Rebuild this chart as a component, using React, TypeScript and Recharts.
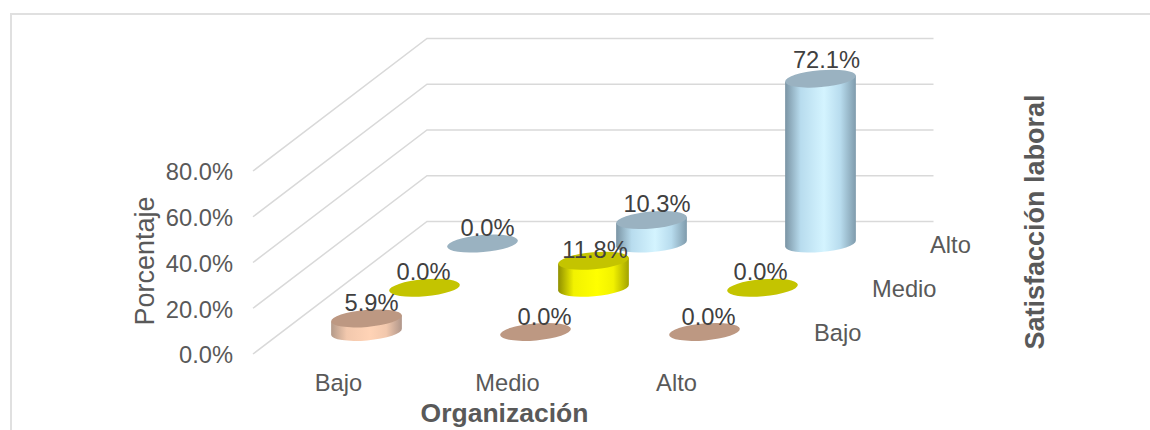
import React from 'react';
import { BarChart, Bar, XAxis, YAxis, CartesianGrid, LabelList } from 'recharts';

// Organización on the x axis, Satisfacción laboral as the depth rows
const categories = ['Bajo', 'Medio', 'Alto'];
const depthLabels = ['Bajo', 'Medio', 'Alto'];
const satisfaccionBajo = [5.9, 0, 0];
const satisfaccionMedio = [0, 11.8, 0];
const satisfaccionAlto = [0, 10.3, 72.1];
const percentTicks = [0, 20, 40, 60, 80];

const data = categories.map((name, i) => ({
  name,
  bajo: satisfaccionBajo[i],
  medio: satisfaccionMedio[i],
  alto: satisfaccionAlto[i],
}));

const FONT = '"Liberation Sans", Arial, sans-serif';
const TEXT = '#595959';
const GRID = '#d9d9d9';
const FONT_SIZE = 23.7;

// front plane of the fake 3D box
const PLOT = { left: 253, right: 760, top: 171, bottom: 354 };
const BACK_DX = 174;
const BACK_DY = 132.5;
const ROW_DX = BACK_DX / 3;
const ROW_DY = BACK_DY / 3;
const TILT = 5;
const RY = 8.5;

const rowOffset = (row: number) => ({
  dx: ROW_DX * (row + 0.5),
  dy: ROW_DY * (row + 0.5),
});

// hand placed data labels, per row then per category
const labelNudge = [
  [{ x: 5, y: -15 }, { x: 9, y: -15 }, { x: 4, y: -15 }],
  [{ x: -1, y: -16 }, { x: 1.5, y: -11 }, { x: -2, y: -16 }],
  [{ x: 5, y: -16 }, { x: 5.5, y: -16 }, { x: 6, y: -19 }],
];

function cylinderShape(row: number, fill: string, top: string) {
  return function Cylinder(props: any) {
    const { x, y, width, height } = props;
    const { dx, dy } = rowOffset(row);
    const cx = x + width / 2 + dx;
    const rx = width / 2;
    const tipX = rx * Math.cos((TILT * Math.PI) / 180);
    const tipY = rx * Math.sin((TILT * Math.PI) / 180);
    const yTop = y - dy;
    const yBase = y + height - dy;
    const side =
      `M${cx - tipX},${yTop + tipY} L${cx - tipX},${yBase + tipY} ` +
      `A${rx},${RY} ${-TILT} 0 0 ${cx + tipX},${yBase - tipY} L${cx + tipX},${yTop - tipY} Z`;
    return (
      <g>
        {height > 0 && <path d={side} fill={fill} />}
        <ellipse cx={cx} cy={yTop} rx={rx} ry={RY} fill={top} transform={`rotate(${-TILT} ${cx} ${yTop})`} />
      </g>
    );
  };
}

function barLabel(row: number) {
  return function BarLabel(props: any) {
    const { x, y, width, value, index } = props;
    const { dx, dy } = rowOffset(row);
    const nudge = labelNudge[row][index];
    return (
      <text
        x={x + width / 2 + dx + nudge.x}
        y={y - dy + nudge.y}
        textAnchor="middle"
        dominantBaseline="central"
        fontFamily={FONT}
        fontSize={FONT_SIZE}
        fill="#404040"
      >
        {`${Number(value).toFixed(1)}%`}
      </text>
    );
  };
}

// slanted side wall plus the flat run along the back wall
function gridLine(props: any) {
  const { x1, y1, x2, key } = props;
  const d = `M${x1},${y1} L${x1 + BACK_DX},${y1 - BACK_DY} L${x2 + BACK_DX - 0.5},${y1 - BACK_DY}`;
  return <path key={key} d={d} fill="none" stroke={GRID} strokeWidth={1.5} />;
}

function SideGradient({ id, edge, soft, mid, right }: { id: string; edge: string; soft: string; mid: string; right: string }) {
  return (
    <linearGradient id={id} x1="0" y1="0" x2="1" y2="0">
      <stop offset="0%" stopColor={edge} />
      <stop offset="22%" stopColor={soft} />
      <stop offset="55%" stopColor={mid} />
      <stop offset="78%" stopColor={soft} />
      <stop offset="100%" stopColor={right} />
    </linearGradient>
  );
}

export default function App() {
  return (
    <div style={{ position: 'absolute', left: 0, top: 0, width: 1150, height: 430, overflow: 'hidden', background: '#fff' }}>
      <div
        style={{
          position: 'absolute',
          left: 10,
          top: 13,
          width: 1140,
          height: 417,
          borderTop: '2px solid #e0e0e0',
          borderLeft: '2px solid #e0e0e0',
        }}
      />
      <div style={{ position: 'absolute', left: 0, top: 0 }}>
        <BarChart
          width={1150}
          height={430}
          data={data}
          margin={{ top: PLOT.top, right: 1150 - PLOT.right, bottom: 0, left: 0 }}
          barSize={71}
          barGap={-71}
          style={{ fontFamily: FONT }}
        >
          <defs>
            <SideGradient id="sideBajo" edge="#b49a89" soft="#f2c8ad" mid="#ffd3b6" right="#b0968a" />
            <SideGradient id="sideMedio" edge="#8f8f00" soft="#f2f200" mid="#ffff00" right="#a3a300" />
            <SideGradient id="sideAlto" edge="#7a94a4" soft="#b8dcee" mid="#d4f4ff" right="#7f9bac" />
          </defs>
          <CartesianGrid vertical={false} horizontal={gridLine} />
          <XAxis
            dataKey="name"
            axisLine={false}
            tickLine={false}
            height={430 - PLOT.bottom}
            tick={{ fontSize: FONT_SIZE, fill: TEXT, fontFamily: FONT, dx: 1 }}
            tickMargin={14}
            label={{ value: 'Organización', position: 'insideBottom', offset: 8, dx: -2, fontSize: 26.5, fontWeight: 700, fill: TEXT, fontFamily: FONT }}
          />
          <YAxis
            domain={[0, 80]}
            ticks={percentTicks}
            width={PLOT.left}
            axisLine={false}
            tickLine={false}
            tickMargin={14}
            tickFormatter={(v: number) => `${v.toFixed(1)}%`}
            tick={{ fontSize: FONT_SIZE, fill: TEXT, fontFamily: FONT, dy: 1 }}
            label={{ value: 'Porcentaje', angle: -90, position: 'insideLeft', dx: 139, dy: 63, fontSize: 27, fill: TEXT, fontFamily: FONT }}
          />
          {/* back row first so the nearer cylinders overlap it */}
          <Bar dataKey="alto" isAnimationActive={false} shape={cylinderShape(2, 'url(#sideAlto)', '#9ab2c1')}>
            <LabelList dataKey="alto" content={barLabel(2)} />
          </Bar>
          <Bar dataKey="medio" isAnimationActive={false} shape={cylinderShape(1, 'url(#sideMedio)', '#c4c400')}>
            <LabelList dataKey="medio" content={barLabel(1)} />
          </Bar>
          <Bar dataKey="bajo" isAnimationActive={false} shape={cylinderShape(0, 'url(#sideBajo)', '#bd9882')}>
            <LabelList dataKey="bajo" content={barLabel(0)} />
          </Bar>
          {depthLabels.map((label, row) => (
            <text
              key={label}
              x={PLOT.right + rowOffset(row).dx + 25}
              y={PLOT.bottom - rowOffset(row).dy + 1}
              dominantBaseline="central"
              fontFamily={FONT}
              fontSize={FONT_SIZE}
              fill={TEXT}
            >
              {label}
            </text>
          ))}
          <text
            transform="translate(1035 222) rotate(-90)"
            textAnchor="middle"
            dominantBaseline="central"
            fontFamily={FONT}
            fontSize={27}
            fontWeight={700}
            fill={TEXT}
          >
            Satisfacción laboral
          </text>
        </BarChart>
      </div>
    </div>
  );
}
